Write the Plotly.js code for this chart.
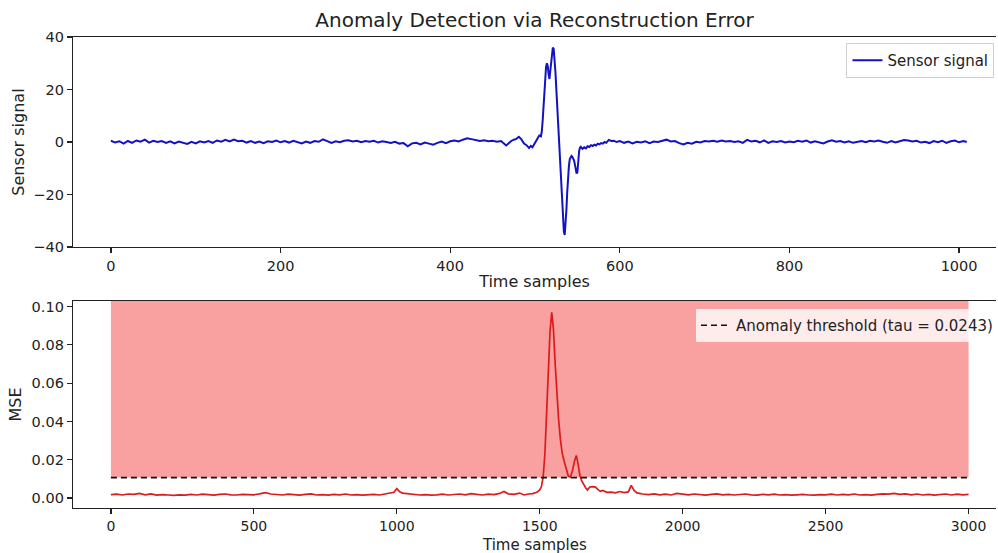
<!DOCTYPE html>
<html>
<head>
<meta charset="utf-8">
<script src="https://cdn.plot.ly/plotly-3.0.1.min.js"></script>
<style>html,body{margin:0;padding:0;background:#fff;}#chart{width:998px;height:553px;}</style>
</head>
<body>
<div id="chart"></div>
<script>
// ---- Top panel: sensor signal ----
const signalX = [0,5,10,15,20,25,30,35,40,45,50,55,60,65,70,75,80,85,90,95,100,105,110,115,120,125,130,135,140,145,150,155,160,165,170,175,180,185,190,195,200,205,210,215,220,225,230,235,240,245,250,255,260,265,270,275,280,285,290,295,300,305,310,315,320,325,330,335,340,345,350,355,360,365,370,375,380,385,390,395,400,405,410,415,420,425,430,435,440,445,450,455,460,
463,466,469,472,475,478,481,484,487,490,493,495,497,499,501,503,505,507,508,509,510,511,512,513,514,515,516,517,518,519,520,521,522,523,524,525,526,527,528,529,530,531,532,533,534,535,536,537,538,539,540,541,542,543,544,545,546,547,548,549,550,551,552,553,554,556,558,560,562,564,566,568,570,572,574,576,578,580,582,584,587,590,593,596,600,
605,610,615,620,625,630,635,640,645,650,655,660,665,670,675,680,685,690,695,700,705,710,715,720,725,730,735,740,745,750,755,760,765,770,775,780,785,790,795,800,805,810,815,820,825,830,835,840,845,850,855,860,865,870,875,880,885,890,895,900,905,910,915,920,925,930,935,940,945,950,955,960,965,970,975,980,985,990,995,1000,1005,1009];
const signalY = [0.5,-0.2,0.3,-0.6,0.4,-0.3,0.6,0.1,0.9,-0.2,0.5,0.0,0.4,-0.3,0.3,-0.5,0.2,-0.4,-0.7,0.1,-0.5,0.3,-0.2,0.4,-0.3,0.6,0.1,0.8,0.2,0.9,0.3,0.5,-0.2,0.4,-0.3,0.2,-0.4,0.3,0.0,0.6,-0.1,0.4,-0.2,0.5,0.0,-0.5,0.2,-0.3,0.4,0.1,1.0,0.2,-0.3,0.3,-0.1,0.5,0.7,0.2,0.5,-0.1,0.4,0.1,0.5,-0.2,0.3,0.0,-0.4,0.1,-0.6,-0.4,-1.6,-0.5,-0.3,-0.9,-0.2,-0.6,-1.0,-0.3,0.2,-0.4,0.3,0.6,0.2,0.9,1.4,1.1,0.8,0.4,0.7,0.3,0.5,0.1,0.4,
-0.3,-1.3,-0.5,0.4,0.9,1.2,2.0,1.0,-0.6,-1.2,-2.3,-1.5,-2.0,-0.8,0.5,1.2,2.5,2.2,4.0,8,14,20,25,28.5,30.0,29,26,24,27,31,34,36,35.5,32,27,21,15,9,4,0,-6,-13,-21,-29,-34,-35.4,-32,-26,-19,-13,-9,-6.5,-5.5,-5.3,-5.6,-6.2,-7,-8.5,-10.5,-12,-11.5,-7,-3.5,-2.2,-1.8,-2.6,-2.0,-2.4,-1.6,-1.9,-1.2,-1.5,-1.0,-1.3,-0.6,-0.9,-0.4,-0.6,0.0,-0.3,0.8,0.4,0.5,0.0,0.4,
-0.3,0.2,-0.5,0.1,-0.2,0.3,-0.4,0.2,0.0,0.6,0.9,0.2,0.4,-0.4,-0.9,-0.3,-0.6,0.1,-0.2,0.4,0.2,0.5,0.1,0.6,0.2,0.4,0.0,0.3,-0.3,0.8,0.2,0.5,-0.1,0.6,-0.3,0.3,0.0,0.4,-0.2,0.2,-0.1,0.5,0.1,0.6,-0.2,0.3,0.0,-0.5,0.2,0.7,0.1,0.4,-0.2,0.3,-0.3,0.1,0.4,-0.1,0.5,0.2,0.6,0.1,-0.3,0.4,-0.2,0.3,0.8,0.6,0.2,0.5,-0.2,0.1,-0.4,0.4,-0.1,0.5,-0.3,0.3,0.6,-0.1,0.4,0.0];

// ---- Bottom panel: reconstruction error (MSE) ----
const mseX = [0,20,40,60,80,100,120,140,160,180,200,220,240,260,280,300,320,340,360,380,400,420,440,460,480,500,520,540,560,580,600,620,640,660,680,700,720,740,760,780,800,820,840,860,880,900,920,940,960,980,990,1000,1010,1020,1040,1060,1080,1100,1120,1140,1160,1180,1200,1220,1240,1260,1280,1300,1320,1340,1360,1375,1390,1410,1430,1445,1460,1475,1490,1500,1506,1512,1518,1524,1530,1536,1542,1548,1554,1560,1566,1572,1578,1585,1592,1600,1607,1614,1622,1628,1634,1640,1646,1652,1660,1667,1675,1685,1695,1703,1712,1720,1735,1750,1765,1780,1795,1810,1820,1830,1840,1860,1880,1900,1920,1940,1960,1980,2000,2020,2040,2060,2080,2100,2120,2140,2160,2180,2200,2220,2240,2260,2280,2300,2320,2340,2360,2380,2400,2420,2440,2460,2480,2500,2520,2540,2560,2580,2600,2620,2640,2660,2680,2700,2720,2740,2760,2780,2800,2820,2840,2860,2880,2900,2920,2940,2960,2980,3000];
const mseY = [0.0018,0.0020,0.0016,0.0021,0.0019,0.0024,0.0017,0.0022,0.0015,0.0018,0.0016,0.0014,0.0017,0.0015,0.0019,0.0016,0.0020,0.0018,0.0015,0.0019,0.0021,0.0017,0.0016,0.0019,0.0018,0.0017,0.0022,0.0028,0.0021,0.0019,0.0016,0.0020,0.0017,0.0015,0.0019,0.0022,0.0016,0.0018,0.0015,0.0019,0.0017,0.0021,0.0016,0.0018,0.0015,0.0017,0.0019,0.0016,0.0021,0.0024,0.0030,0.0049,0.0033,0.0026,0.0022,0.0019,0.0016,0.0018,0.0015,0.0017,0.0020,0.0016,0.0018,0.0021,0.0017,0.0023,0.0019,0.0016,0.0020,0.0018,0.0024,0.0034,0.0022,0.0019,0.0026,0.0016,0.0021,0.0023,0.0030,0.0042,0.0060,0.0110,0.0230,0.0420,0.0650,0.0870,0.0970,0.0880,0.0700,0.0530,0.0410,0.0310,0.0240,0.0195,0.0150,0.0115,0.0110,0.0140,0.0195,0.0222,0.0180,0.0120,0.0092,0.0075,0.0055,0.0042,0.0058,0.0060,0.0057,0.0045,0.0035,0.0040,0.0030,0.0031,0.0027,0.0034,0.0028,0.0032,0.0066,0.0040,0.0027,0.0021,0.0018,0.0022,0.0017,0.0020,0.0016,0.0024,0.0019,0.0017,0.0021,0.0018,0.0015,0.0019,0.0022,0.0017,0.0019,0.0016,0.0018,0.0021,0.0017,0.0015,0.0019,0.0017,0.0020,0.0016,0.0018,0.0015,0.0017,0.0019,0.0016,0.0015,0.0018,0.0017,0.0020,0.0016,0.0019,0.0017,0.0021,0.0016,0.0018,0.0015,0.0019,0.0022,0.0020,0.0024,0.0019,0.0022,0.0017,0.0021,0.0016,0.0019,0.0015,0.0018,0.0021,0.0016,0.0020,0.0017,0.0019];

const thresholdLevel = 0.0107;
const thresholdLabel = 'Anomaly threshold (tau = 0.0243)';
const shadeStart = 0, shadeEnd = 3000;

const FONT = 'DejaVu Sans, sans-serif';
const INK = '#222';

const traces = [
  {x: signalX, y: signalY, type: 'scatter', mode: 'lines', name: 'Sensor signal',
   line: {color: '#1212c4', width: 2}, xaxis: 'x', yaxis: 'y', legend: 'legend'},
  {x: mseX, y: mseY, type: 'scatter', mode: 'lines', name: 'MSE', showlegend: false,
   line: {color: '#dc1c1c', width: 1.7}, xaxis: 'x2', yaxis: 'y2'},
  {x: [shadeStart, shadeEnd], y: [thresholdLevel, thresholdLevel], type: 'scatter', mode: 'lines',
   name: thresholdLabel, line: {color: '#111', width: 1.7, dash: '6px,4px'},
   xaxis: 'x2', yaxis: 'y2', legend: 'legend2'}
];

const axisCommon = {
  showline: true, linecolor: INK, linewidth: 1.2, ticks: 'outside', ticklen: 5, tickwidth: 1.2,
  tickcolor: INK, showgrid: false, zeroline: false, tickfont: {family: FONT, size: 14.5, color: INK}
};
const titleFont = {family: FONT, size: 16, color: INK};

const layout = {
  width: 998, height: 553,
  margin: {l: 73, r: 0, t: 37, b: 45},
  paper_bgcolor: '#fff', plot_bgcolor: '#fff',
  font: {family: FONT, color: INK},
  title: {text: 'Anomaly Detection via Reconstruction Error', font: {family: FONT, size: 20, color: INK},
          xref: 'paper', x: 0.5, xanchor: 'center', yref: 'container', y: 0.963, yanchor: 'middle'},
  xaxis: Object.assign({}, axisCommon, {domain: [0, 1], anchor: 'y', range: [-44.7, 1043.5],
          tick0: 0, dtick: 200, mirror: true,
          title: {text: 'Time samples', font: titleFont, standoff: 3}}),
  yaxis: Object.assign({}, axisCommon, {domain: [0.554, 1], anchor: 'x', range: [-40, 40],
          tick0: -40, dtick: 20,
          title: {text: 'Sensor signal', font: titleFont, standoff: 4}}),
  xaxis2: Object.assign({}, axisCommon, {domain: [0, 1], anchor: 'y2', range: [-132.6, 3096],
          tick0: 0, dtick: 500, mirror: true, tickfont: {family: FONT, size: 14, color: INK}}),
  yaxis2: Object.assign({}, axisCommon, {domain: [0, 0.4395], anchor: 'x2', range: [-0.0052, 0.1029],
          tick0: 0, dtick: 0.02, tickformat: '.2f',
          title: {text: 'MSE', font: titleFont, standoff: 6}}),
  annotations: [
    {text: 'Time samples', xref: 'paper', yref: 'paper', x: 0.5, y: -0.0775, xanchor: 'center',
     yanchor: 'middle', showarrow: false, borderpad: 0, font: {family: FONT, size: 15, color: INK}}
  ],
  shapes: [
    {type: 'rect', xref: 'x2', yref: 'y2 domain', x0: shadeStart, x1: shadeEnd,
     y0: (thresholdLevel + 0.0052) / (0.1029 + 0.0052), y1: 1,
     fillcolor: '#f9a0a0', line: {width: 0}, layer: 'below'}
  ],
  legend: {x: 0.838, y: 0.987, xanchor: 'left', yanchor: 'top', bgcolor: 'rgba(255,255,255,0.85)',
           bordercolor: '#d0d0d0', borderwidth: 1, font: {family: FONT, size: 15, color: INK}},
  legend2: {x: 0.675, y: 0.4225, xanchor: 'left', yanchor: 'top', bgcolor: 'rgba(255,255,255,0.8)',
            bordercolor: 'rgba(0,0,0,0)', borderwidth: 0, font: {family: FONT, size: 15, color: INK}},
  showlegend: true
};

Plotly.newPlot('chart', traces, layout, {staticPlot: true, displayModeBar: false});
</script>
</body>
</html>
